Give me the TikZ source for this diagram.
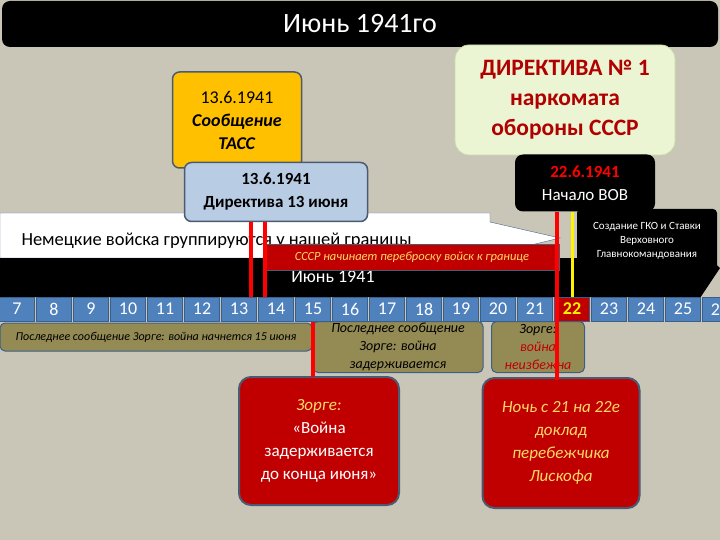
\documentclass[tikz,border=0pt]{standalone}
\usepackage{fontspec}
\setmainfont{Carlito}
\definecolor{bg}{HTML}{C9C6B8}
\definecolor{dayblue}{HTML}{4F81BD}
\definecolor{daybdr}{HTML}{3A5F8A}
\definecolor{olivebg}{HTML}{948A54}
\definecolor{redbg}{HTML}{C00000}
\definecolor{vred}{HTML}{FF0000}
\definecolor{slate}{HTML}{4A5A70}
\definecolor{darkred}{HTML}{B00000}
\definecolor{ylw}{HTML}{FFD966}
\definecolor{orng}{HTML}{FFC000}
\definecolor{grnbdr}{HTML}{C8DCAA}
\definecolor{grnfill}{HTML}{EBF5D4}
\definecolor{lblue}{HTML}{B8CCE4}
\begin{document}
\begin{tikzpicture}[x=1pt,y=-1pt,
  box/.style={draw=#1,line width=1.5pt,rounded corners=7pt,align=center,inner sep=0pt},
  day/.style={fill=dayblue,draw=daybdr,line width=0.6pt,minimum width=35pt,minimum height=24pt,inner sep=0pt,font=\fontsize{18}{18}\selectfont,text=white},
  olive/.style={fill=olivebg,draw=daybdr,line width=1pt,rounded corners=5pt,align=center,inner sep=0pt,font=\itshape},
  redbox/.style={fill=redbg,draw=slate,line width=2pt,rounded corners=12pt,align=center,inner sep=0pt,minimum width=160pt,minimum height=128pt},
  vline/.style={line width=4pt,draw=vred}]
\fill[bg] (0,0) rectangle (720,540);
\useasboundingbox (0,0) rectangle (720,540);
% top bar
\node[fill=black,rounded corners=8pt,minimum width=716pt,minimum height=46pt,text=white,font=\fontsize{28}{28}\selectfont] (title) at (360,24) {Июнь 1941го};
% white arrow
\fill[white,draw=daybdr] (0,213) -- (490,213) -- (490,222) -- (560,238) -- (490,255) -- (490,258) -- (0,258) -- cycle;
\node[font=\fontsize{18.5}{18.5}\selectfont,anchor=west] (germ) at (18,241) {Немецкие войска группируются у нашей границы};
% black band arrow
\fill[black] (0,258) -- (700,258) -- (700,250) -- (720,268) -- (700,298) -- (700,297) -- (0,297) -- cycle;
\node[fill=black,rounded corners=4pt,minimum width=140pt,minimum height=64pt,text=white,align=center,font=\fontsize{11}{14}\selectfont] (gko) at (647,241) {Создание ГКО и Ставки\\Верховного\\Главнокомандования};
\node[text=white,font=\fontsize{18}{18}\selectfont] (jun) at (333,277) {Июнь 1941};
% red banner
\node[fill=redbg,draw=slate,minimum width=295pt,minimum height=26pt,text=ylw,font=\itshape\fontsize{12.5}{12.5}\selectfont,inner sep=0pt] (ussr) at (412,257) {СССР начинает переброску войск к границе};
% boxes
\node[box=slate,fill=orng,minimum width=129pt,minimum height=96pt,font=\fontsize{18}{23}\selectfont] (tass) at (237,120) {13.6.1941\\\textbf{\itshape Сообщение}\\\textbf{\itshape ТАСС}};
\node[box=grnbdr,fill=grnfill,line width=0.8pt,rounded corners=14pt,minimum width=220pt,minimum height=110pt,text=darkred,font=\bfseries\fontsize{23.5}{30}\selectfont] (dir1) at (565,100) {ДИРЕКТИВА № 1\\наркомата\\обороны СССР};
\node[box=slate,fill=lblue,minimum width=183pt,minimum height=59pt,font=\bfseries\fontsize{17}{23}\selectfont] (dir13) at (276,192) {13.6.1941\\Директива 13 июня};
\node[fill=black,rounded corners=8pt,minimum width=140pt,minimum height=57pt,align=center,text=white,font=\fontsize{17}{23}\selectfont] (vov) at (585,183) {\textcolor{red}{\bfseries 22.6.1941}\\Начало ВОВ};
% days
\foreach \d [count=\i from 0] in {7,...,26}{
  \node[day] (d\d) at (17+\i*37,309) {\d};
}
\node[day,fill=redbg,text=yellow,font=\bfseries\fontsize{18}{18}\selectfont] at (d22) {22};
% olive boxes
\node[olive,minimum width=312pt,minimum height=28pt,font=\itshape\fontsize{12}{12}\selectfont] (o1) at (156,337) {Последнее сообщение Зорге: война начнется 15 июня};
\node[olive,minimum width=170pt,minimum height=51pt,font=\itshape\fontsize{14}{18}\selectfont] (o2) at (398,347) {Последнее сообщение\\Зорге: война\\задерживается};
\node[olive,minimum width=93pt,minimum height=51pt,font=\itshape\fontsize{14}{18}\selectfont] (o3) at (538,347) {Зорге:\\\textcolor{redbg}{война}\\\textcolor{redbg}{неизбежна}};
% red boxes
\node[redbox,text=white,font=\fontsize{17}{23}\selectfont] (z) at (319,441) {\textcolor{ylw}{\itshape Зорге:}\\«Война\\задерживается\\до конца июня»};
\node[redbox,minimum width=157pt,minimum height=130pt,text=ylw,font=\itshape\fontsize{17}{23}\selectfont] (l) at (561,443) {Ночь с 21 на 22е\\доклад\\перебежчика\\Лискофа};
% vertical lines
\coordinate (a1) at (251,222);
\coordinate (a2) at (265,222);
\draw[vline] (a1) -- (a1|-d13.north);
\draw[vline] (a2) -- (a2|-d13.north);
\draw[vline] (313,322) -- (313,377);
\draw[vline] (557,212) -- (557,380);
\draw[line width=3pt,yellow] (572,212) -- (572,297);
\end{tikzpicture}
\end{document}
